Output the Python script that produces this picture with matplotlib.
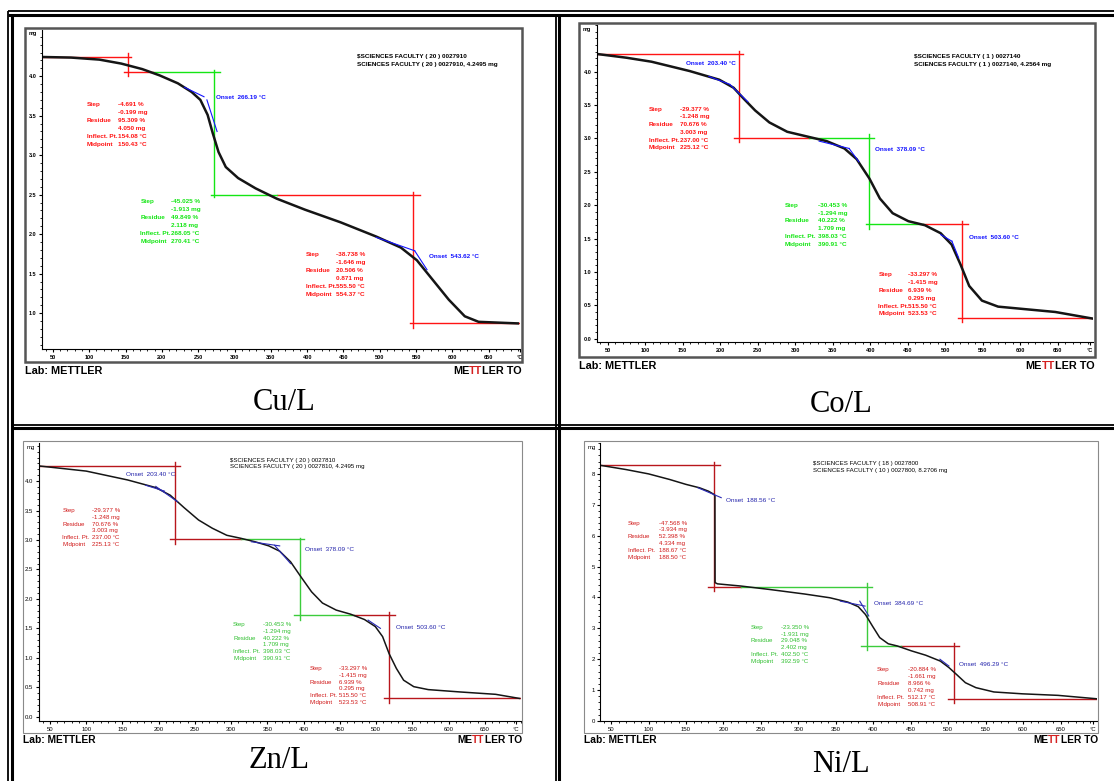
import matplotlib
matplotlib.use("Agg")
import matplotlib.pyplot as plt
from matplotlib.lines import Line2D
from matplotlib.patches import Rectangle
from matplotlib.ticker import MultipleLocator

W, H = 1114, 781
plt.rcParams["font.family"] = ["Liberation Sans", "DejaVu Sans"]

# ---------------- data ----------------
# Cu/L
cu_temp = [32, 75, 114, 144, 173, 197, 222, 241, 253, 263, 270, 278, 288, 305, 329,
           358, 397, 446, 495, 529, 551, 573, 595, 617, 636, 690]
cu_mass = [4.244, 4.236, 4.21, 4.16, 4.09, 4.01, 3.91, 3.80, 3.70, 3.51, 3.28, 3.04,
           2.85, 2.71, 2.58, 2.45, 2.31, 2.15, 1.97, 1.83, 1.67, 1.42, 1.17, 0.96, 0.89, 0.87]
cu_red_T = [[35, 158], [154, 154], [148, 188], [358, 555], [546, 546], [542, 692]]
cu_red_m = [[4.244, 4.244], [4.29, 4.0], [4.05, 4.05], [2.49, 2.49], [2.53, 0.81], [0.875, 0.875]]
cu_green_T = [[188, 280], [272, 272], [268, 358]]
cu_green_m = [[4.05, 4.05], [4.08, 2.47], [2.49, 2.49]]
cu_blue_T = [[231, 258], [262, 276], [495, 548], [548, 565]]
cu_blue_m = [[3.86, 3.74], [3.70, 3.30], [1.96, 1.79], [1.79, 1.55]]
cu_red1 = ["-4.691 %", "-0.199 mg", "95.309 %", "4.050 mg", "154.08 °C", "150.43 °C"]
cu_green = ["-45.025 %", "-1.913 mg", "49.849 %", "2.118 mg", "268.05 °C", "270.41 °C"]
cu_red3 = ["-38.738 %", "-1.646 mg", "20.506 %", "0.871 mg", "555.50 °C", "554.37 °C"]
cu_onsets = ["Onset  266.19 °C", "Onset  543.62 °C"]
cu_header = ["$SCIENCES FACULTY ( 20 ) 0027910", "SCIENCES FACULTY ( 20 ) 0027910, 4.2495 mg"]

# Co/L
co_temp = [33, 75, 108.6, 159.5, 199, 218, 232, 246.7, 265.7, 289.5, 315.7, 342, 365.7,
           382, 399, 413, 430, 451, 473, 494, 508.6, 520.5, 532, 549, 570.5, 599, 646.7, 697]
co_mass = [4.27, 4.21, 4.15, 4.01, 3.88, 3.76, 3.59, 3.42, 3.24, 3.10, 3.03, 2.96, 2.85,
           2.69, 2.40, 2.10, 1.88, 1.76, 1.70, 1.58, 1.41, 1.11, 0.79, 0.57, 0.48, 0.45, 0.40, 0.30]
co_red_T = [[36, 231], [225, 225], [218, 318], [470, 531], [523, 523], [517, 697]]
co_red_m = [[4.27, 4.27], [4.31, 2.95], [3.01, 3.01], [1.72, 1.72], [1.76, 0.25], [0.307, 0.307]]
co_green_T = [[318, 405], [399, 399], [394, 470]]
co_green_m = [[3.01, 3.01], [3.07, 1.65], [1.72, 1.72]]
co_blue_T = [[185, 213], [213, 237], [332, 372], [372, 385], [494, 509], [509, 518]]
co_blue_m = [[3.93, 3.81], [3.81, 3.55], [2.96, 2.85], [2.85, 2.65], [1.56, 1.46], [1.46, 1.21]]
co_red1 = ["-29.377 %", "-1.248 mg", "70.676 %", "3.003 mg", "237.00 °C", "225.12 °C"]
co_green = ["-30.453 %", "-1.294 mg", "40.222 %", "1.709 mg", "398.03 °C", "390.91 °C"]
co_red3 = ["-33.297 %", "-1.415 mg", "6.939 %", "0.295 mg", "515.50 °C", "523.53 °C"]
co_onsets = ["Onset  203.40 °C", "Onset  378.09 °C", "Onset  503.60 °C"]
co_header = ["$SCIENCES FACULTY ( 1 ) 0027140", "SCIENCES FACULTY ( 1 ) 0027140, 4.2564 mg"]

# Zn/L
zn_temp = [33, 100, 157, 196, 216, 235, 255, 274, 294, 313, 333, 352, 367, 382, 396, 411,
           426, 445, 465, 484, 499, 509, 518, 528, 538, 552, 572, 616, 665, 698]
zn_mass = [4.26, 4.17, 4.02, 3.89, 3.76, 3.55, 3.34, 3.20, 3.08, 3.03, 2.97, 2.90, 2.81,
           2.63, 2.38, 2.12, 1.93, 1.81, 1.74, 1.65, 1.53, 1.36, 1.07, 0.82, 0.62, 0.51,
           0.46, 0.42, 0.38, 0.31]
zn_red_T = [[34, 230], [223, 223], [216, 313], [469.5, 525.6], [518.3, 518.3], [511, 700]]
zn_red_m = [[4.26, 4.26], [4.33, 2.93], [3.01, 3.01], [1.72, 1.72], [1.78, 0.24], [0.31, 0.31]]
zn_green_T = [[313, 401], [395.4, 395.4], [386.6, 469.5]]
zn_green_m = [[3.01, 3.01], [3.03, 1.64], [1.72, 1.72]]
zn_blue_T = [[182, 208], [196, 226], [328, 367], [360, 382], [489, 506]]
zn_blue_m = [[3.93, 3.83], [3.91, 3.65], [2.97, 2.90], [2.91, 2.60], [1.64, 1.50]]
zn_red1 = ["-29.377 %", "-1.248 mg", "70.676 %", "3.003 mg", "237.00 °C", "225.13 °C"]
zn_green = ["-30.453 %", "-1.294 mg", "40.222 %", "1.709 mg", "398.03 °C", "390.91 °C"]
zn_red3 = ["-33.297 %", "-1.415 mg", "6.939 %", "0.295 mg", "515.50 °C", "523.53 °C"]
zn_onsets = ["Onset  203.40 °C", "Onset  378.09 °C", "Onset  503.60 °C"]
zn_header = ["$SCIENCES FACULTY ( 20 ) 0027810", "SCIENCES FACULTY ( 20 ) 0027810, 4.2495 mg"]

# Ni/L
ni_temp = [35, 70, 100, 128, 150, 168, 180, 187, 188.6, 188.8, 192, 223, 261, 308.6, 342,
           366, 380, 389.5, 399, 408.6, 420, 432, 451, 470, 489.5, 501, 511, 523, 537,
           561, 599, 646.7, 698]
ni_mass = [8.28, 8.14, 8.0, 7.82, 7.66, 7.55, 7.44, 7.34, 7.30, 4.48, 4.44, 4.37, 4.26,
           4.11, 3.99, 3.85, 3.70, 3.45, 3.07, 2.70, 2.50, 2.43, 2.27, 2.13, 1.94, 1.73,
           1.51, 1.24, 1.08, 0.94, 0.88, 0.83, 0.72]
ni_red_T = [[36, 195], [188, 188], [180, 223], [437, 514], [507.6, 507.6], [500, 699]]
ni_red_m = [[8.28, 8.28], [8.4, 4.2], [4.35, 4.35], [2.42, 2.42], [2.53, 0.59], [0.72, 0.72]]
ni_green_T = [[223, 398], [391, 391], [384, 437]]
ni_green_m = [[4.35, 4.35], [4.48, 2.30], [2.42, 2.42]]
ni_blue_T = [[166, 197], [356, 389], [382, 394], [489, 501]]
ni_blue_m = [[7.55, 7.23], [3.88, 3.72], [3.88, 3.40], [2.0, 1.78]]
ni_red1 = ["-47.568 %", "-3.934 mg", "52.398 %", "4.334 mg", "188.67 °C", "188.50 °C"]
ni_green = ["-23.350 %", "-1.931 mg", "29.048 %", "2.402 mg", "402.50 °C", "392.59 °C"]
ni_red3 = ["-20.884 %", "-1.661 mg", "8.966 %", "0.742 mg", "512.17 °C", "508.91 °C"]
ni_onsets = ["Onset  188.56 °C", "Onset  384.69 °C", "Onset  496.29 °C"]
ni_header = ["$SCIENCES FACULTY ( 18 ) 0027800", "SCIENCES FACULTY ( 10 ) 0027800, 8.2706 mg"]

block_labels = ["Step", "", "Residue", "", "Inflect. Pt.", "Midpoint"]
x_major = list(range(50, 700, 50))
x_labels = [str(v) for v in x_major]

fig = plt.figure(figsize=(W / 100, H / 100), dpi=100)
fig.patch.set_facecolor("white")


def fx(x):
    return x / W


def fy(y):
    return 1 - y / H


def seg(x0, y0, x1, y1, lw, color="black"):
    fig.add_artist(Line2D([fx(x0), fx(x1)], [fy(y0), fy(y1)], color=color, lw=lw,
                          transform=fig.transFigure, solid_capstyle="butt"))


# table borders
seg(8, 11, 1114, 11, 1.3)
seg(8, 14.5, 1114, 14.5, 2.2)
seg(8, 11, 8, 781, 1.3)
seg(11.5, 14.5, 11.5, 781, 2.2)
seg(555.5, 14.5, 555.5, 781, 1.3)
seg(559, 14.5, 559, 781, 2.2)
seg(11.5, 424.5, 1114, 424.5, 1.3)
seg(11.5, 428, 1114, 428, 2.2)

top_style = dict(weight="bold", red="#ff1414", green="#14e614", blue="#1414ff",
                 tred="#ff1414", tgreen="#14e614", tblue="#1414ff", curve_lw=1.8,
                 frame="#555555", frame_lw=1.8, fs=4.6, tick_fs=4.0)
bot_style = dict(weight="normal", red="#b8161c", green="#3ccc3c", blue="#2a2ab5",
                 tred="#d01818", tgreen="#2fbf2f", tblue="#2222aa", curve_lw=1.1,
                 frame="#8a8a8a", frame_lw=0.8, fs=4.4, tick_fs=4.3)


def panel(frame, box, xlim, ylim, yticks, ylabels, yminor, temp, mass,
          red_T, red_m, green_T, green_m, blue_T, blue_m, st):
    fl, ft, fr, fb = frame
    fig.add_artist(Rectangle((fx(fl), fy(fb)), (fr - fl) / W, (fb - ft) / H, fill=False,
                             ec=st["frame"], lw=st["frame_lw"], transform=fig.transFigure))
    l, t, r, b = box
    ax = fig.add_axes([fx(l), fy(b), (r - l) / W, (b - t) / H])
    ax.patch.set_alpha(0)
    ax.set_xlim(xlim)
    ax.set_ylim(ylim)
    for s in ("top", "right"):
        ax.spines[s].set_visible(False)
    for s in ("left", "bottom"):
        ax.spines[s].set_linewidth(0.8)
    ax.set_xticks(x_major + [693])
    ax.set_xticklabels(x_labels + ["°C"])
    ax.xaxis.set_minor_locator(MultipleLocator(10))
    ax.set_yticks(yticks)
    ax.set_yticklabels(ylabels)
    ax.yaxis.set_minor_locator(MultipleLocator(yminor))
    ax.tick_params(which="major", length=2.5, width=0.8, labelsize=st["tick_fs"], pad=1.5)
    ax.tick_params(which="minor", length=1.3, width=0.6)
    for lab in ax.get_xticklabels() + ax.get_yticklabels():
        lab.set_fontweight(st["weight"])
    for tt, mm in zip(red_T, red_m):
        ax.plot(tt, mm, color=st["red"], lw=1.0)
    for tt, mm in zip(green_T, green_m):
        ax.plot(tt, mm, color=st["green"], lw=1.0)
    ax.plot(temp, mass, color="#151515", lw=st["curve_lw"], solid_joinstyle="round")
    for tt, mm in zip(blue_T, blue_m):
        ax.plot(tt, mm, color=st["blue"], lw=0.8)
    fig.text(fx(fl + 4), fy(ft + 6), "mg", fontsize=st["tick_fs"], va="center",
             fontweight=st["weight"])
    return ax


def block(ax, x_lab, x_val, y0, dy, values, color, st):
    for i, (lab, val) in enumerate(zip(block_labels, values)):
        y = y0 - i * dy
        ax.text(x_lab, y, lab, color=color, fontsize=st["fs"], va="center",
                fontweight=st["weight"])
        ax.text(x_val, y, val, color=color, fontsize=st["fs"], va="center",
                fontweight=st["weight"])


def header(ax, x, y0, dy, lines, st):
    for i, s in enumerate(lines):
        ax.text(x, y0 - i * dy, s, fontsize=st["fs"], va="center", fontweight=st["weight"])


def footer(frame, y, size, weight):
    fl, ft, fr, fb = frame
    fig.text(fx(fl), fy(y), "Lab: METTLER", fontsize=size, fontweight=weight, va="center")
    rend = fig.canvas.get_renderer()
    parts = [("ME", "black"), ("TT", "#d42020"), ("LER TO", "black")]
    widths = []
    for s, c in parts:
        t = fig.text(0, 0, s, fontsize=size, fontweight=weight)
        widths.append(t.get_window_extent(rend).width)
        t.remove()
    x = fr - sum(widths)
    for (s, c), w in zip(parts, widths):
        fig.text(fx(x), fy(y), s, fontsize=size, fontweight=weight, va="center", color=c)
        x += w


def caption(x, y, s):
    fig.text(fx(x), fy(y), s, fontsize=22, family=["Liberation Serif", "DejaVu Serif"],
             ha="center", va="center")


# ---------------- Cu/L ----------------
cu_frame = (25, 28, 522, 362)
ax = panel(cu_frame, (42, 30, 520, 349), (35, 693), (0.546, 4.585),
           [1.0, 1.5, 2.0, 2.5, 3.0, 3.5, 4.0],
           ["1.0", "1.5", "2.0", "2.5", "3.0", "3.5", "4.0"], 0.1,
           cu_temp, cu_mass, cu_red_T, cu_red_m, cu_green_T, cu_green_m,
           cu_blue_T, cu_blue_m, top_style)
block(ax, 97, 139, 3.646, 0.101, cu_red1, top_style["tred"], top_style)
block(ax, 170.5, 213, 2.41, 0.1, cu_green, top_style["tgreen"], top_style)
block(ax, 398, 440, 1.74, 0.101, cu_red3, top_style["tred"], top_style)
ax.text(274, 3.73, cu_onsets[0], color=top_style["tblue"], fontsize=4.6, va="center",
        fontweight="bold")
ax.text(568, 1.72, cu_onsets[1], color=top_style["tblue"], fontsize=4.6, va="center",
        fontweight="bold")
header(ax, 469, 4.25, 0.1, cu_header, top_style)
footer(cu_frame, 371, 7.8, "bold")
caption(284, 402, "Cu/L")

# ---------------- Co/L ----------------
co_frame = (579, 23, 1095, 357)
ax = panel(co_frame, (597, 25, 1093, 342), (36, 697), (-0.05, 4.70),
           [0.0, 0.5, 1.0, 1.5, 2.0, 2.5, 3.0, 3.5, 4.0],
           ["0.0", "0.5", "1.0", "1.5", "2.0", "2.5", "3.0", "3.5", "4.0"], 0.1,
           co_temp, co_mass, co_red_T, co_red_m, co_green_T, co_green_m,
           co_blue_T, co_blue_m, top_style)
block(ax, 104.8, 146.7, 3.44, 0.116, co_red1, top_style["tred"], top_style)
block(ax, 286, 330, 2.0, 0.118, co_green, top_style["tgreen"], top_style)
block(ax, 411, 451, 0.955, 0.117, co_red3, top_style["tred"], top_style)
for (xx, yy), s in zip([(155, 4.12), (407, 2.83), (532, 1.51)], co_onsets):
    ax.text(xx, yy, s, color=top_style["tblue"], fontsize=4.6, va="center", fontweight="bold")
header(ax, 458.6, 4.23, 0.12, co_header, top_style)
footer(co_frame, 366, 7.8, "bold")
caption(841, 404, "Co/L")

# ---------------- Zn/L ----------------
zn_frame = (23, 441, 522, 733)
ax = panel(zn_frame, (38.6, 443, 521, 721), (34.3, 700), (-0.073, 4.647),
           [0.0, 0.5, 1.0, 1.5, 2.0, 2.5, 3.0, 3.5, 4.0],
           ["0.0", "0.5", "1.0", "1.5", "2.0", "2.5", "3.0", "3.5", "4.0"], 0.1,
           zn_temp, zn_mass, zn_red_T, zn_red_m, zn_green_T, zn_green_m,
           zn_blue_T, zn_blue_m, bot_style)
block(ax, 67, 107.6, 3.495, 0.113, zn_red1, bot_style["tred"], bot_style)
block(ax, 302.7, 343.7, 1.572, 0.118, zn_green, bot_style["tgreen"], bot_style)
block(ax, 408.5, 449, 0.82, 0.116, zn_red3, bot_style["tred"], bot_style)
for (xx, yy), s in zip([(154.9, 4.12), (402, 2.84), (527, 1.516)], zn_onsets):
    ax.text(xx, yy, s, color=bot_style["tblue"], fontsize=4.6, va="center")
header(ax, 297.8, 4.355, 0.115, zn_header, bot_style)
footer(zn_frame, 740, 7.4, "bold")
caption(279, 760, "Zn/L")

# ---------------- Ni/L ----------------
ni_frame = (584, 441, 1098, 733)
ax = panel(ni_frame, (600.4, 443, 1097, 721), (35.7, 698.7), (0.0, 9.0),
           list(range(0, 9)), [str(v) for v in range(0, 9)], 0.2,
           ni_temp, ni_mass, ni_red_T, ni_red_m, ni_green_T, ni_green_m,
           ni_blue_T, ni_blue_m, bot_style)
block(ax, 72, 114, 6.41, 0.222, ni_red1, bot_style["tred"], bot_style)
block(ax, 236.7, 277, 3.04, 0.224, ni_green, bot_style["tgreen"], bot_style)
block(ax, 405, 446.7, 1.67, 0.226, ni_red3, bot_style["tred"], bot_style)
for (xx, yy), s in zip([(203, 7.14), (401, 3.80), (515, 1.82)], ni_onsets):
    ax.text(xx, yy, s, color=bot_style["tblue"], fontsize=4.6, va="center")
header(ax, 320, 8.33, 0.22, ni_header, bot_style)
footer(ni_frame, 740, 7.4, "bold")
caption(841, 765, "Ni/L")

fig.savefig("out.png", dpi=100)
